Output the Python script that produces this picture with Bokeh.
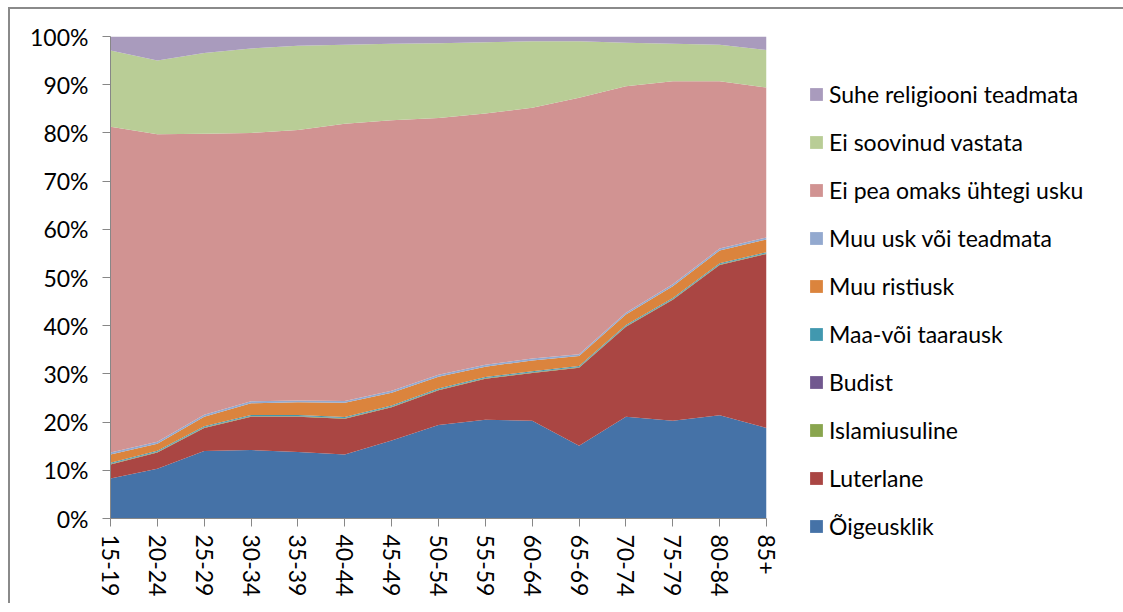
from bokeh.plotting import figure
from bokeh.models import (ColumnDataSource, Range1d, FixedTicker, PrintfTickFormatter,
                          Legend, LegendItem)
from bokeh.embed import file_html
from bokeh.resources import INLINE

categories = ["15-19", "20-24", "25-29", "30-34", "35-39", "40-44", "45-49", "50-54",
              "55-59", "60-64", "65-69", "70-74", "75-79", "80-84", "85+"]

# shares in percent, bottom of the stack first
oigeusklik = [8.3, 10.3, 14.0, 14.2, 13.8, 13.3, 16.2, 19.4, 20.5, 20.3, 15.1, 21.1, 20.3, 21.4, 18.8]
luterlane = [2.9, 3.4, 4.8, 6.9, 7.3, 7.4, 6.9, 7.2, 8.5, 9.9, 16.2, 18.7, 25.1, 31.2, 36.1]
islamiusuline = [0.1, 0.1, 0.1, 0.1, 0.1, 0.1, 0.1, 0.1, 0.1, 0.1, 0.1, 0.1, 0.1, 0.1, 0.1]
budist = [0.05, 0.05, 0.05, 0.05, 0.05, 0.05, 0.05, 0.05, 0.05, 0.05, 0.05, 0.05, 0.05, 0.05, 0.05]
maa_taarausk = [0.2, 0.2, 0.2, 0.2, 0.2, 0.2, 0.2, 0.2, 0.2, 0.2, 0.2, 0.2, 0.2, 0.2, 0.2]
muu_ristiusk = [1.75, 1.45, 1.95, 2.45, 2.65, 2.95, 2.65, 2.45, 2.15, 2.25, 2.05, 2.15, 2.45, 2.65, 2.65]
muu_usk = [0.4, 0.4, 0.4, 0.4, 0.4, 0.4, 0.4, 0.4, 0.4, 0.4, 0.4, 0.4, 0.4, 0.4, 0.4]
ei_pea = [67.6, 63.8, 58.3, 55.7, 56.1, 57.5, 56.1, 53.3, 52.1, 52.0, 53.2, 47.0, 42.1, 34.7, 31.1]
ei_soovinud = [15.8, 15.3, 16.8, 17.5, 17.5, 16.4, 15.9, 15.5, 14.8, 13.8, 11.7, 9.0, 7.8, 7.6, 7.8]
suhe_teadmata = [2.9, 5.0, 3.4, 2.5, 1.9, 1.7, 1.5, 1.4, 1.2, 1.0, 1.0, 1.3, 1.5, 1.7, 2.8]

series_names = ["Õigeusklik", "Luterlane", "Islamiusuline", "Budist", "Maa-või taarausk",
                "Muu ristiusk", "Muu usk või teadmata", "Ei pea omaks ühtegi usku",
                "Ei soovinud vastata", "Suhe religiooni teadmata"]
series_values = [oigeusklik, luterlane, islamiusuline, budist, maa_taarausk,
                 muu_ristiusk, muu_usk, ei_pea, ei_soovinud, suhe_teadmata]
colors = ["#4572A7", "#AA4643", "#89A54E", "#71588F", "#4198AF",
          "#DB843D", "#93A9CF", "#D19392", "#B9CD96", "#A99BBD"]

FONT = "Lato"
FS = "23px"

keys = ["s%d" % i for i in range(len(series_names))]
data = {"x": list(range(len(categories)))}
for k, v in zip(keys, series_values):
    data[k] = v
source = ColumnDataSource(data)

p = figure(frame_width=656, frame_height=482,
           min_border_left=100, min_border_right=349, min_border_top=27, min_border_bottom=85,
           x_range=Range1d(0, len(categories) - 1), y_range=Range1d(0, 100),
           output_backend="svg", toolbar_location=None,
           styles={"border-left": "2px solid #8a8a8a", "border-top": "2px solid #8a8a8a",
                   "margin-left": "8px", "margin-top": "7px"})

renderers = p.varea_stack(stackers=keys, x="x", color=colors, source=source)

p.xgrid.visible = False
p.ygrid.visible = False
p.outline_line_color = None

# axes
p.xaxis.ticker = FixedTicker(ticks=list(range(len(categories))))
p.xaxis.major_label_overrides = {i: c for i, c in enumerate(categories)}
p.xaxis.major_label_orientation = "vertical"
p.yaxis.ticker = FixedTicker(ticks=list(range(0, 101, 10)))
p.yaxis.formatter = PrintfTickFormatter(format="%d%%")
for ax in (p.xaxis[0], p.yaxis[0]):
    ax.axis_line_color = "#878787"
    ax.major_tick_line_color = "#878787"
    ax.minor_tick_line_color = None
    ax.major_tick_in = 0
    ax.major_tick_out = 8
    ax.major_label_text_font = FONT
    ax.major_label_text_font_size = FS
    ax.major_label_text_color = "#000000"
p.yaxis.major_label_standoff = 14
p.xaxis.major_label_standoff = 8

items = [LegendItem(label=n, renderers=[r]) for n, r in zip(series_names, renderers)]
items = items[::-1]
legend = Legend(items=items, location=(42, -22), orientation="vertical",
                glyph_width=16, glyph_height=16, label_standoff=5,
                label_height=28, spacing=20, padding=0, margin=0,
                border_line_color=None, background_fill_alpha=0,
                label_text_font=FONT, label_text_font_size=FS, label_text_color="#000000")
p.add_layout(legend, "right")

open("out.html", "w").write(file_html(p, INLINE))
